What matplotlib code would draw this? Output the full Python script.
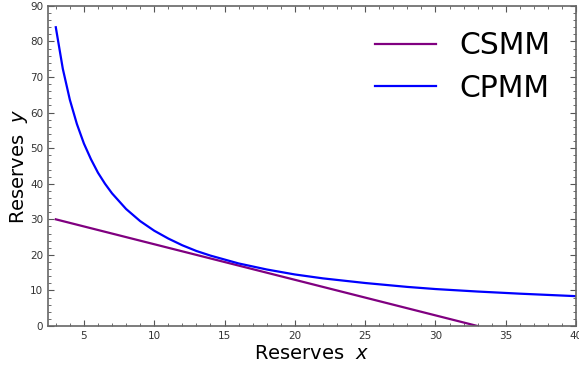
import matplotlib
matplotlib.use("Agg")
import matplotlib.pyplot as plt
from matplotlib.ticker import MultipleLocator

# constant sum market maker: x + y = 33
csmm_x = [3, 33]
csmm_y = [30, 0]

# constant product market maker
cpmm_x = [3, 3.5, 4, 4.5, 5, 5.5, 6, 6.5, 7, 8, 9, 10, 11, 12, 13, 14, 16, 18,
          20, 22, 25, 28, 30, 33, 36, 40]
cpmm_y = [84.0, 72.3, 63.6, 56.8, 51.3, 46.9, 43.1, 40.0, 37.3, 32.9, 29.5,
          26.8, 24.6, 22.7, 21.1, 19.8, 17.6, 15.9, 14.5, 13.4, 12.1, 11.0,
          10.4, 9.7, 9.1, 8.4]

fig = plt.figure(figsize=(5.79, 3.68), dpi=100)
ax = fig.add_axes([0.083, 0.114, 0.912, 0.870])

ax.plot(csmm_x, csmm_y, color='purple', lw=1.6, label='CSMM')
ax.plot(cpmm_x, cpmm_y, color='blue', lw=1.6, label='CPMM')

ax.set_xlim(2.45, 40)
ax.set_ylim(0, 90)
ax.xaxis.set_major_locator(MultipleLocator(5))
ax.xaxis.set_minor_locator(MultipleLocator(1))
ax.yaxis.set_major_locator(MultipleLocator(10))
ax.yaxis.set_minor_locator(MultipleLocator(2))

ax.tick_params(which='both', direction='in', top=True, right=True,
               colors='#555555', labelcolor='#333333', labelsize=7.5)
ax.tick_params(which='major', length=4)
ax.tick_params(which='minor', length=2)
for s in ax.spines.values():
    s.set_color('#666666')
    s.set_linewidth(1.2)

ax.set_xlabel('Reserves  $x$', fontsize=14, labelpad=2)
ax.set_ylabel('Reserves  $y$', fontsize=14, labelpad=0)

ax.legend(loc='upper right', fontsize=21.5, frameon=False, handlelength=2.05,
          handletextpad=0.8, borderaxespad=0.45, labelspacing=0.45)

plt.savefig("out.png", dpi=100)
